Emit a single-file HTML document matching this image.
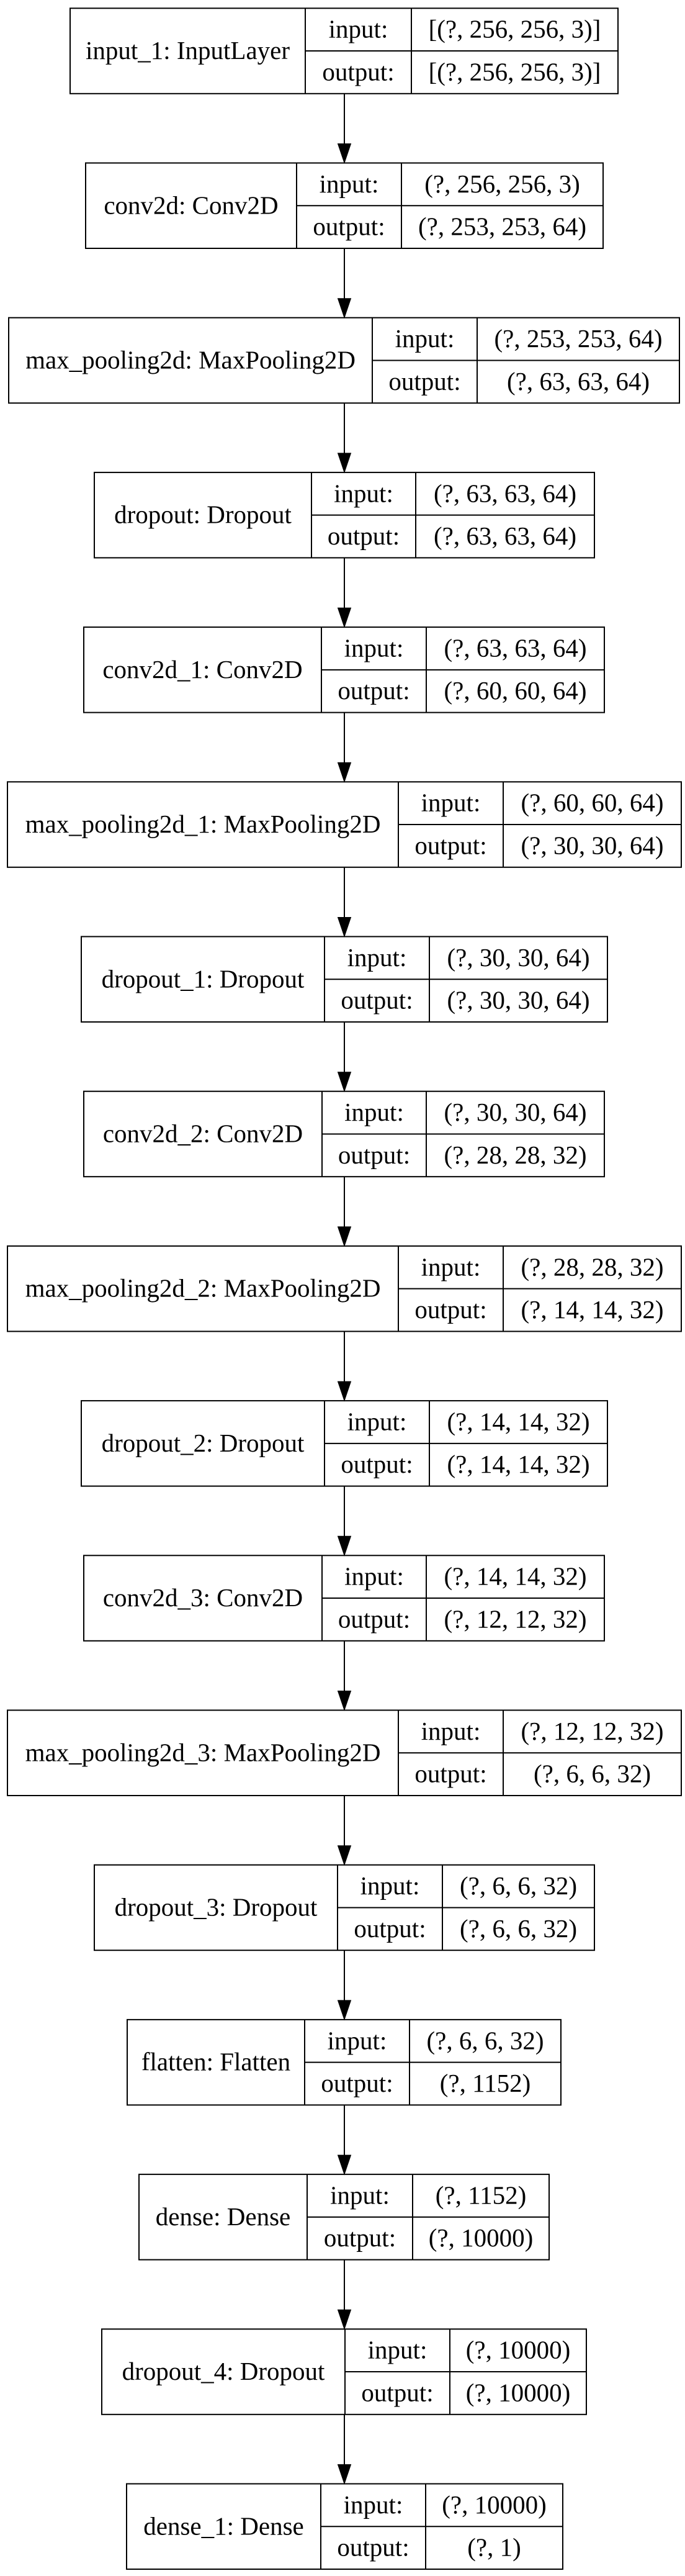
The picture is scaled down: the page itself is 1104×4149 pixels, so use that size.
<!DOCTYPE html>
<html><head><meta charset="utf-8"><style>
html,body{margin:0;padding:0;background:#fff;}
svg{display:block;}
text{font-family:"Liberation Serif","Times New Roman",serif;font-size:41px;fill:#000;}
</style></head><body>
<svg id="g" width="1104" height="4149" viewBox="0 0 1104 4149" xmlns="http://www.w3.org/2000/svg">
<rect width="1104" height="4149" fill="#fff"/>
</svg>
<script>
const names = ["input_1: InputLayer","conv2d: Conv2D","max_pooling2d: MaxPooling2D","dropout: Dropout","conv2d_1: Conv2D","max_pooling2d_1: MaxPooling2D","dropout_1: Dropout","conv2d_2: Conv2D","max_pooling2d_2: MaxPooling2D","dropout_2: Dropout","conv2d_3: Conv2D","max_pooling2d_3: MaxPooling2D","dropout_3: Dropout","flatten: Flatten","dense: Dense","dropout_4: Dropout","dense_1: Dense"];
const inputs = ["[(?, 256, 256, 3)]","(?, 256, 256, 3)","(?, 253, 253, 64)","(?, 63, 63, 64)","(?, 63, 63, 64)","(?, 60, 60, 64)","(?, 30, 30, 64)","(?, 30, 30, 64)","(?, 28, 28, 32)","(?, 14, 14, 32)","(?, 14, 14, 32)","(?, 12, 12, 32)","(?, 6, 6, 32)","(?, 6, 6, 32)","(?, 1152)","(?, 10000)","(?, 10000)"];
const outputs = ["[(?, 256, 256, 3)]","(?, 253, 253, 64)","(?, 63, 63, 64)","(?, 63, 63, 64)","(?, 60, 60, 64)","(?, 30, 30, 64)","(?, 30, 30, 64)","(?, 28, 28, 32)","(?, 14, 14, 32)","(?, 14, 14, 32)","(?, 12, 12, 32)","(?, 6, 6, 32)","(?, 6, 6, 32)","(?, 1152)","(?, 10000)","(?, 10000)","(?, 1)"];
// column edges per box: left, divider1, divider2, right
const edges = [[113,492,663,996],[138,478,647,972],[14,600,769,1095],[152,502,670,958],[135,518,687,974],[12,642,811,1098],[131,523,692,979],[135,519,687,974],[12,642,811,1098],[131,523,692,979],[135,519,687,974],[12,642,811,1098],[152,544,713,958],[205,491,660,904],[224,495,665,885],[164,556,725,945],[204,517,686,907]];
const NS="http://www.w3.org/2000/svg";
const svg=document.getElementById('g');
const TOP0=13.3, PITCH=249.2, H=137.5, AX=555;
function mk(tag,attrs){const e=document.createElementNS(NS,tag);for(const k in attrs)e.setAttribute(k,attrs[k]);svg.appendChild(e);return e;}
function txt(x,y,s){const t=mk('text',{x:x,y:y,'text-anchor':'middle'});t.textContent=s;return t;}
for(let i=0;i<names.length;i++){
  const [l,d1,d2,r]=edges[i];
  const t=TOP0+i*PITCH, b=t+H, m=t+H/2;
  const box=mk('rect',{x:l,y:t,width:r-l,height:H,fill:'none',stroke:'#000','stroke-width':2});
  
  
  const lines=mk('path',{d:`M${d1},${t}V${b}M${d2},${t}V${b}M${d1},${m}H${r}`,stroke:'#000','stroke-width':2,fill:'none'});
  
  
  const n=txt((l+d1)/2,m+13,names[i]);
  
  
  const a=txt((d1+d2)/2,t+H/4+13,'input:');
  
  
  const b2=txt((d1+d2)/2,t+3*H/4+13,'output:');
  
  
  const c=txt((d2+r)/2,t+H/4+13,inputs[i]);
  
  
  const d=txt((d2+r)/2,t+3*H/4+13,outputs[i]);
  
  
  if(i<names.length-1){
    const nt=TOP0+(i+1)*PITCH;
    const ln=mk('line',{x1:AX,y1:b,x2:AX,y2:nt-30,stroke:'#000','stroke-width':2});
    
    
    const hd=mk('polygon',{points:`${AX-10.5},${nt-31} ${AX+10.5},${nt-31} ${AX},${nt}`,fill:'#000',stroke:'#000','stroke-width':1});
    
    
  }
}
</script>
</body></html>
